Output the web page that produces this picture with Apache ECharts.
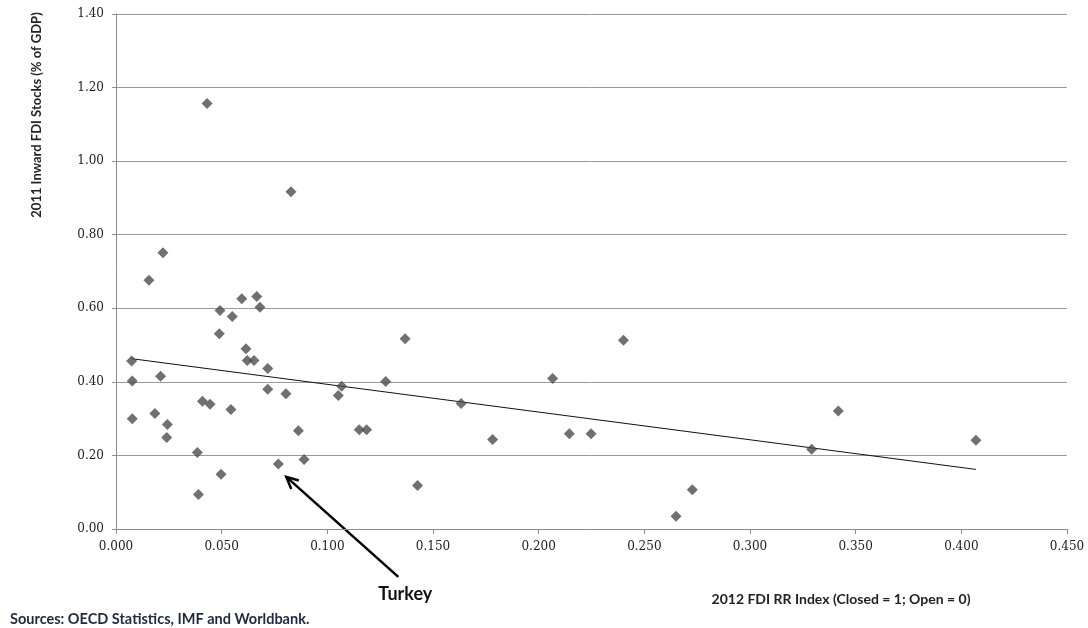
<!DOCTYPE html>
<html>
<head>
<meta charset="utf-8">
<script src="https://cdn.jsdelivr.net/npm/echarts@6/dist/echarts.min.js"></script>
<style>html,body{margin:0;padding:0;background:#fff;}#c{width:1088px;height:628px;}</style>
</head>
<body>
<div id="c"></div>
<script>
// FDI restrictiveness index (x) vs inward FDI stocks % of GDP (y)
const fdiIndex = [0.0431,0.0828,0.0222,0.0156,0.0074,0.0077,0.0077,0.0211,0.0184,0.0243,0.0240,0.0385,0.0390,0.0409,0.0445,0.0492,0.0489,0.0497,0.0550,0.0544,0.0595,0.0666,0.0681,0.0615,0.0621,0.0653,0.0718,0.0718,0.0804,0.0768,0.0863,0.0890,0.1052,0.1068,0.1151,0.1186,0.1276,0.1368,0.1427,0.1633,0.1782,0.2066,0.2145,0.2248,0.2401,0.2650,0.2727,0.3292,0.3418,0.4069];
const fdiStocks = [1.157,0.917,0.751,0.676,0.457,0.402,0.300,0.415,0.314,0.284,0.249,0.208,0.094,0.347,0.339,0.594,0.531,0.149,0.578,0.325,0.626,0.632,0.603,0.490,0.458,0.458,0.436,0.380,0.368,0.177,0.267,0.189,0.363,0.388,0.270,0.270,0.401,0.517,0.118,0.341,0.243,0.409,0.259,0.259,0.513,0.035,0.107,0.217,0.321,0.241];
const turkeyIndex = 29;
const trendX = [0.0074, 0.4069];
const trendY = [0.463, 0.162];
const xTicks = {min:0, max:0.45, interval:0.05};
const yTicks = {min:0, max:1.4, interval:0.2};

const chart = echarts.init(document.getElementById('c'), null, {renderer:'canvas'});
const pts = fdiIndex.map((x,i)=>[x, fdiStocks[i]]);
const trend = trendX.map((x,i)=>[x, trendY[i]]);
const tickFont = {fontFamily:'DejaVu Serif', fontSize:12, color:'#222'};
chart.setOption({
  animation:false,
  backgroundColor:'#fff',
  grid:{left:116, right:21, top:14, bottom:99, containLabel:false},
  xAxis:{type:'value', min:xTicks.min, max:xTicks.max, interval:xTicks.interval,
    axisLine:{show:true, lineStyle:{color:'#8c8c8c', width:1}},
    axisTick:{show:true, length:5, lineStyle:{color:'#8c8c8c'}},
    axisLabel:Object.assign({formatter:v=>v.toFixed(3), margin:12}, tickFont),
    splitLine:{show:false}},
  yAxis:{type:'value', min:yTicks.min, max:yTicks.max, interval:yTicks.interval,
    axisLine:{show:true, lineStyle:{color:'#8c8c8c', width:1}},
    axisTick:{show:true, length:4, lineStyle:{color:'#8c8c8c'}},
    axisLabel:Object.assign({formatter:v=>v.toFixed(2), margin:12}, tickFont),
    splitLine:{show:true, lineStyle:{color:'#9a9a9a', width:1}}},
  series:[
    {type:'line', data:trend, symbol:'none', lineStyle:{color:'#111', width:1}, silent:true, z:2},
    {type:'scatter', data:pts, symbol:'diamond', symbolSize:11, itemStyle:{color:'#4c4c4c'}, z:3}
  ]
});

const p = chart.convertToPixel({seriesIndex:1}, pts[turkeyIndex]);
const tip = [p[0]+8, p[1]+13];
const tail = [p[0]+120, p[1]+113];
const ang = Math.atan2(tail[1]-tip[1], tail[0]-tip[0]);
const hl = 13, ha = 0.45;
const h1 = [tip[0]+hl*Math.cos(ang+ha), tip[1]+hl*Math.sin(ang+ha)];
const h2 = [tip[0]+hl*Math.cos(ang-ha), tip[1]+hl*Math.sin(ang-ha)];
chart.setOption({graphic:[
  {type:'line', shape:{x1:tip[0], y1:tip[1], x2:tail[0], y2:tail[1]}, style:{stroke:'#000', lineWidth:2.5}},
  {type:'polyline', shape:{points:[h1, tip, h2]}, style:{stroke:'#000', lineWidth:2.5, fill:null}},
  {type:'text', x:p[0]+127, y:p[1]+130, style:{text:'Turkey', fontFamily:'Lato', fontWeight:'bold', fontSize:18, fill:'#111', textAlign:'center', textVerticalAlign:'middle'}},
  {type:'text', x:841, y:599, style:{text:'2012 FDI RR Index (Closed = 1; Open = 0)', fontFamily:'Lato', fontWeight:'bold', fontSize:14, fill:'#222', textAlign:'center', textVerticalAlign:'middle'}},
  {type:'text', x:10, y:619, style:{text:'Sources: OECD Statistics, IMF and Worldbank.', fontFamily:'Lato', fontWeight:'bold', fontSize:14.5, fill:'#1f2a40', textAlign:'left', textVerticalAlign:'middle'}},
  {type:'text', x:37, y:115, rotation:Math.PI/2, style:{text:'2011 Inward FDI Stocks (% of GDP)', fontFamily:'Lato', fontWeight:'bold', fontSize:13, fill:'#222', textAlign:'center', textVerticalAlign:'middle'}}
]});
</script>
</body>
</html>
